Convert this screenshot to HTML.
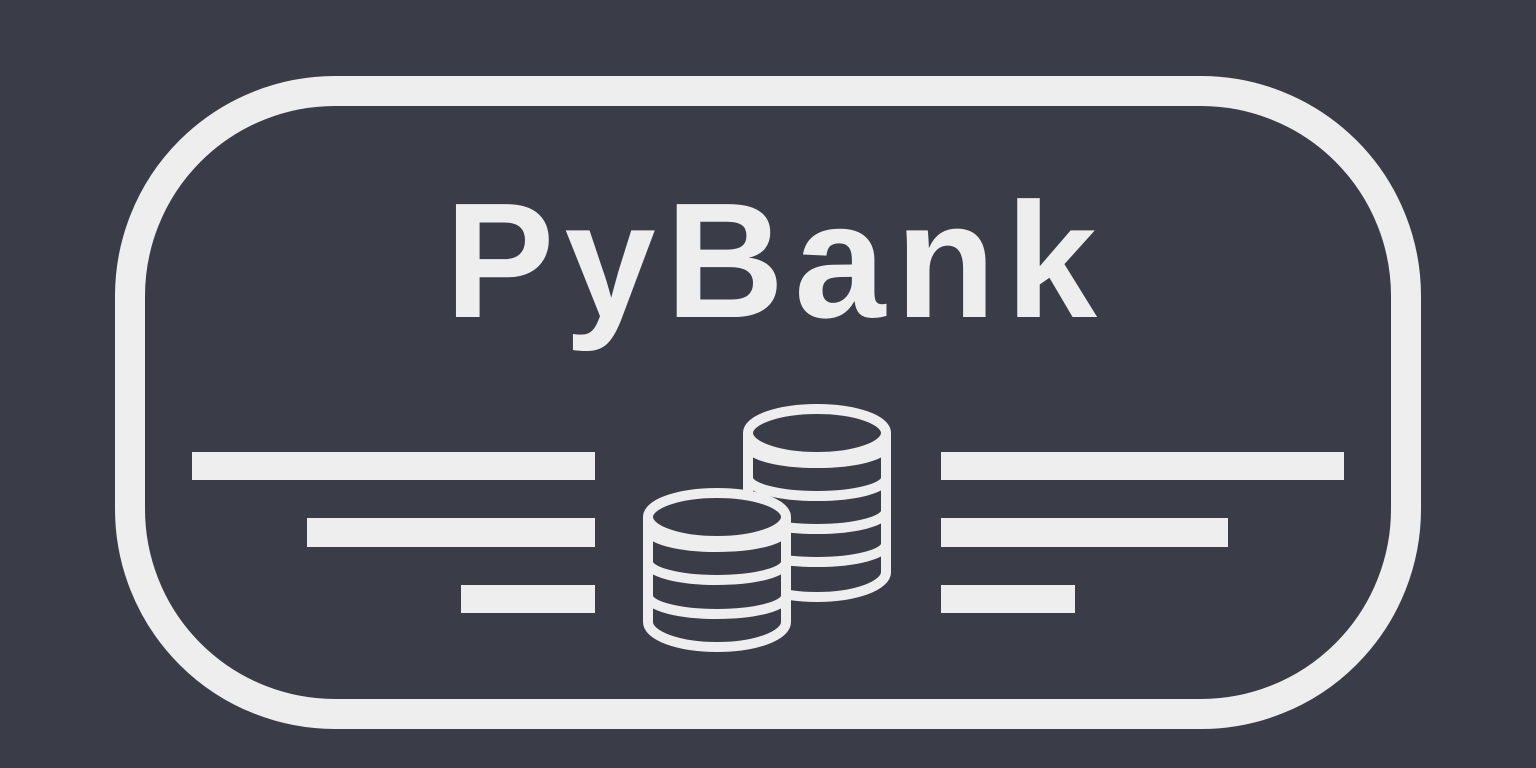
<!DOCTYPE html>
<html><head><meta charset="utf-8"><style>html,body{margin:0;padding:0;background:#3a3d47;}svg{display:block}</style></head>
<body>
<svg width="1536" height="768" viewBox="0 0 1536 768" xmlns="http://www.w3.org/2000/svg">
<rect width="1536" height="768" fill="#3a3d47"/>
<rect x="130" y="91" width="1276" height="623" rx="205" ry="205" fill="none" stroke="#eeeeee" stroke-width="30"/>
<text x="445" y="317" font-family="Liberation Sans, sans-serif" font-weight="bold" font-size="164" fill="#eeeeee" textLength="652" lengthAdjust="spacing">PyBank</text>
<g fill="#eeeeee">
<rect x="192" y="452" width="403" height="28"/>
<rect x="307" y="518" width="288" height="29"/>
<rect x="461" y="585" width="134" height="28"/>
<rect x="941" y="452" width="403" height="28"/>
<rect x="941" y="518" width="287" height="29"/>
<rect x="941" y="585" width="134" height="28"/>
</g>
<g fill="none" stroke="#eeeeee" stroke-width="10" stroke-linejoin="round">
<path d="M748 433 V572 A69 25 0 0 0 886 572 V433" fill="#3a3d47"/>
<ellipse cx="817" cy="433" rx="69" ry="24"/>
<path d="M748 445 A69 18 0 0 0 886 445"/>
<path d="M748 478 A69 18 0 0 0 886 478"/>
<path d="M748 511 A69 18 0 0 0 886 511"/>
<path d="M748 544 A69 18 0 0 0 886 544"/>
<path d="M648 517 V622 A69 25 0 0 0 786 622 V517" fill="#3a3d47"/>
<ellipse cx="717" cy="517" rx="69" ry="24" fill="#3a3d47"/>
<path d="M648 529 A69 18 0 0 0 786 529"/>
<path d="M648 562 A69 18 0 0 0 786 562"/>
<path d="M648 596 A69 18 0 0 0 786 596"/>
</g>
</svg>
</body></html>
